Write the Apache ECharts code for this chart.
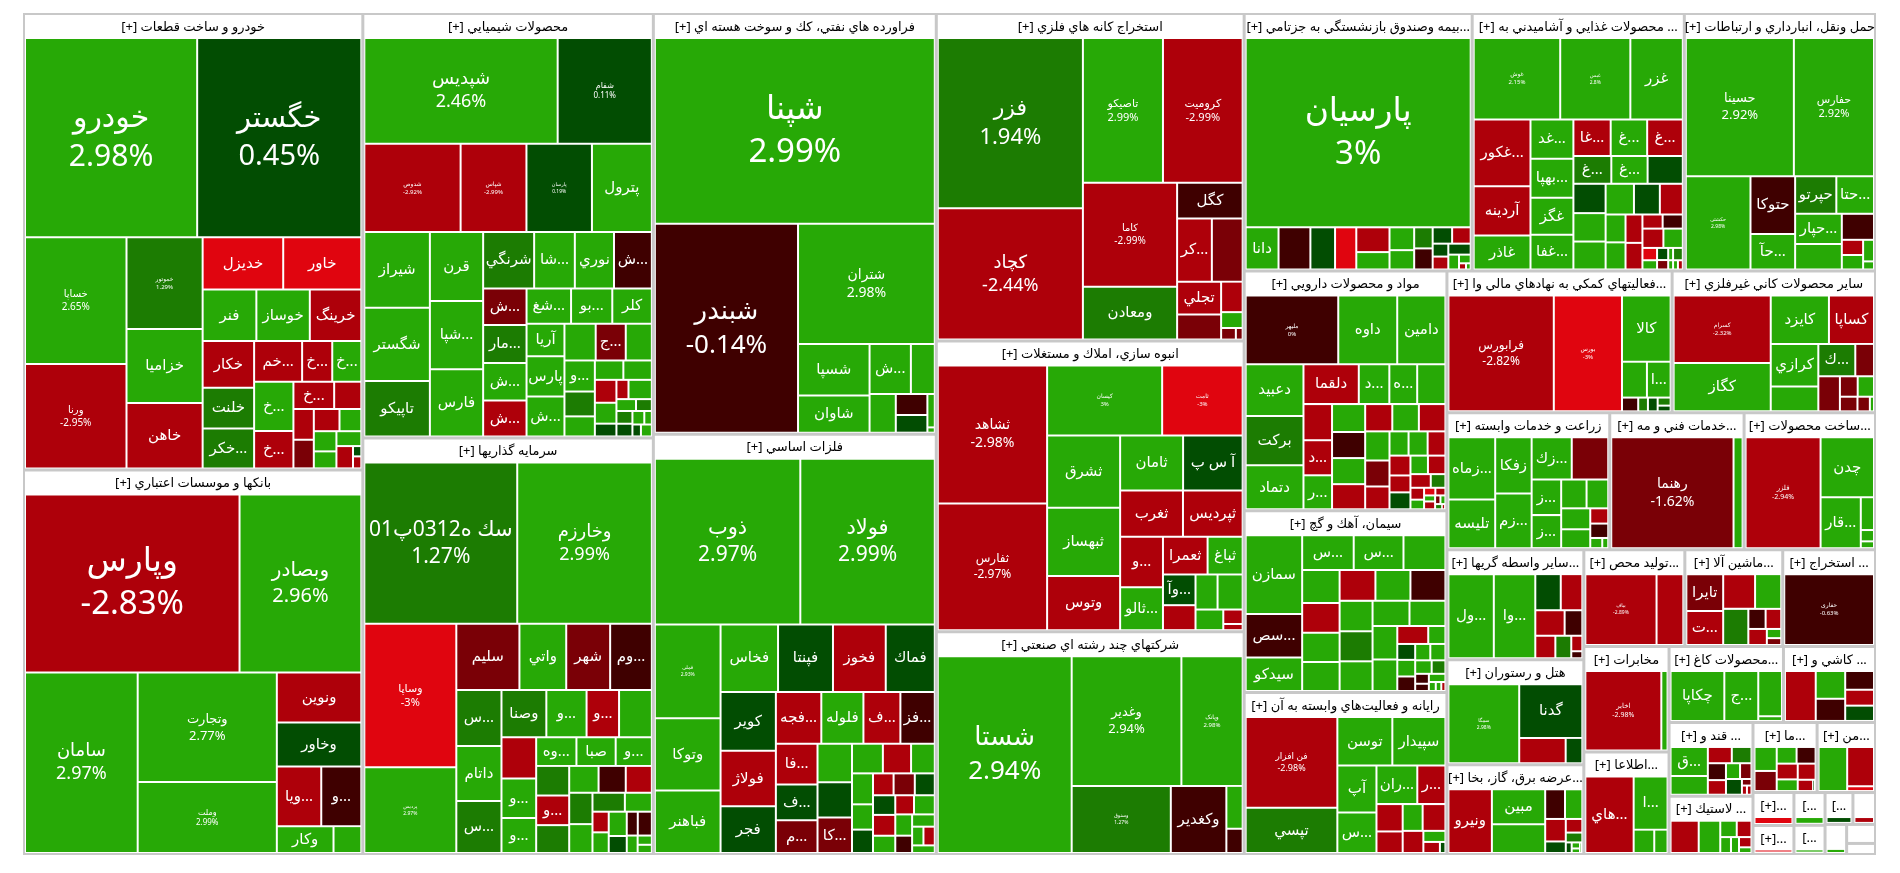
<!DOCTYPE html>
<html>
<head>
<meta charset="utf-8">
<title>treemap</title>
<script src="https://cdn.jsdelivr.net/npm/echarts@6/dist/echarts.min.js"></script>
<style>
html, body { margin: 0; background: #fff; }
#main { width: 1900px; height: 873px; }
</style>
</head>
<body>
<div id="main"></div>
<script>
// each row: symbol, percent change, market size
// a nested list keeps a strip of cells together
const khodro = [['خودرو',2.98,240.7],['خگستر',0.45,229.5],['خساپا',2.65,90.2],['ورنا',-2.95,74.3],['خموتور',1.29,49],['خزامیا',2.9,39.5],['خاهن',-2.9,34.9],['خدیزل',-3,29.5],['خاور',-3,28.6],['فنر',2.9,19.4],['خوساز',2.9,19.3],['خرینگ',-2.9,18.6],['خکار',-2.9,16.9],['خلنت',1.5,14.7],['خکر...',1.5,14.4],['خم...',-2.9,13.7],['خ...',-2.9,8.6],['خ...',2.9,8.3],['خ...',2.9,13.6],['خ...',-2.9,10.3],['خ...',-2.9,7.8],['',-2.9,5.2],['',-2.9,4.4],['',-1.5,4.1],['',-2.9,4],['',2.9,3.4],['',2.9,3.2],['',2.9,2.7],['',2.9,2.6],['',-2.9,2.6],['',0.5,0.6],['',-2.9,0.7]];
const banks = [['وپارس',-2.83,266],['وبصادر',2.96,151],['سامان',2.97,141.5],['وتجارت',2.77,106],['وملت',2.99,68.7],['ونوین',-2.9,29.4],['وخاور',0.5,25.9],['ویا...',-2.9,18.4],['و...',-0.5,16.6],['وکار',2.9,10.6],['',2.9,5.2]];
const chemical = [['شپدیس',2.46,140.6],['شفام',0.11,68.5],['شدوص',-2.92,58.5],['شپاس',-2.99,40],['پارسان',0.19,39.8],['پترول',2.9,36.4],['شیراز',2.9,34.2],['شگستر',2.9,33],['تاپیکو',1.5,25],['قرن',2.9,25.3],['شپا...',2.9,25],['فارس',2.9,24.6],['شرنگي',1.5,19.8],['شا...',2.9,15.8],['نوري',2.9,15.2],['ش...',-0.5,14.7],['ش...',-1.5,10.9],['مار...',1.5,11.4],['ش...',2.9,11.2],['ش...',-2.9,10.7],['شغ...',2.9,10.8],['بو...',2.9,10],['کلر',2.9,9.6],['آریا',2.9,8.5],['پارس',2.9,10.5],['ش...',2.9,10.4],['',2.9,7.9],['ج...',-1.5,7.6],['',2.9,6.6],['و...',2.9,6.5],['',1.5,5.2],['',2.9,4.2],['',2.9,3.8],['',2.9,3.8],['',-2.9,3.4],['',2.9,3.1],['',0.5,1.9],['',-2.9,1.6],['',2.9,3.1],['',2.9,1.6],['',1.5,1.3],['',1.5,1.4],['',0.5,1.4],['',2.9,1.1],['',2.9,0.7],['',0.5,0.7],['',2.9,0.9]];
const invest = [['سك ه0312پ01',1.27,169],['وخارزم',2.99,148.8],['وساپا',-3,90.3],['پردیس',2.97,54],[['سلیم',-1.5,28.6],['واتي',2.9,21.2],['شهر',-1.5,19.9],['وم...',-0.5,18.9]],[['س...',1.5,17.3],['داتام',2.9,17],['س...',1.5,16.1],[['وصنا',1.5,14.5],['و...',2.9,13],['و...',-2.9,10.5],['',2.9,10.6]],[['',-2.9,9.8],['و...',2.9,9.4],['و...',2.9,8.3],['وه...',2.9,7.9],['صبا',2.9,7.7],['و...',2.9,7.1],['',1.5,6.7],['و...',-2.9,6.7],['',1.5,6.3],['',2.9,5.4],['',-0.5,5],['',-2.9,4.8],['',1.5,5],['',2.9,4.6],['',1.5,4.2],['',2.9,3.5],['',-2.9,2.3],['',2.9,2.3],['',2.9,3],['',0.5,2.1],['',-0.5,1.8],['',-0.5,2.3],['',2.9,1.3],['',2.9,0.9],['',2.9,0.8]]]];
const refinery = [['شپنا',2.99,399.5],['شبندر',-0.14,230],['شتران',2.98,126.4],['شسپا',2.9,28.4],['شاوان',2.9,20.4],[['ش...',2.9,15.9],['',2.9,9.2]],[['',2.9,7.8],['',-0.5,5.1],['',0.5,4.3],['',2.9,1.9],['',2.9,0.3]]];
const metals = [['ذوب',2.97,181.7],['فولاد',2.99,168],['فملی',2.93,46.5],['وتوکا',2.9,35.8],['فباهنر',2.9,30.9],['فخاس',2.9,29.3],['فپنتا',0.5,28],['فخوز',-2.9,26.9],['فماك',0.5,25],['کویر',0.5,24.5],['فولاژ',-2.9,23.1],['فجر',0.5,19.5],[['فجه...',-2.9,17.7],['فلوله',2.9,16.4],['ف...',-2.9,14.4],['فز...',-0.5,13.4]],[['فا...',-2.9,12.8],['ف...',0.5,11.2],['م...',-1.5,10.3],['',2.9,10],['',0.5,9.2],['کا...',-1.5,9.2],['',2.9,6.9],['',-2.9,6.3],['',2.9,5.3],['',2.9,4.9],['',2.9,4],['',0.5,3.7],['',-2.9,3.4],['',-1.5,3.5],['',0.5,3.3],['',0.5,3.3],['',-2.9,3.5],['',2.9,2.9],['',-2.9,2.7],['',2.9,3],['',2.9,2.7],['',-0.5,2.2],['',2.9,2.1],['',2.9,1.6],['',-2.9,1.6],['',2.9,1.3]]];
const mining = [['فزر',1.94,188],['کچاد',-2.44,145],['تاصیکو',2.99,88.2],['کرومیت',-2.99,87.8],['کاما',-2.99,74.6],['ومعادن',1.5,37.8],['کگل',-0.5,17.8],[['کر...',-2.9,16.7],['',-1.5,14.8]],[['تجلي',-2.9,11],['',-1.5,8.4],['',-2.9,5],['',2.9,2.6],['',-1.5,1.3],['',-1.5,0.6]]];
const building = [['ثشاهد',-2.98,113],['ثفارس',-2.97,103.9],['کیسان',3,60.3],['ثامت',-3,42.2],['ثشرق',2.9,39.6],['ثبهساز',2.9,37.4],['وتوس',-2.9,29.6],['ثامان',2.9,26],['آ س پ',0.5,24.6],['ثغرب',-2.9,21.8],['ثپردیس',-2.9,20.7],['و...',-2.9,16.2],['ثالو...',2.9,13.8],['ثعمرا',-2.9,12.6],['ثباغ',2.9,9.9],['وآ...',0.5,7.5],['',-2.9,6.1],['',2.9,5.8],['',2.9,6.6],['',2.9,4.3],['',-2.9,2.1],['',-2.9,0.9]];
const multi = [['شستا',2.94,200],[['وغدیر',2.94,108],['وپانک',2.98,60.3]],[['وسنوق',1.27,50.5],['وکغدیر',-0.5,28.3],[['',2.9,5.3],['',-0.5,3]]]];
const insurance = [['پارسیان',3,295],['دانا',2.9,9.6],['',-0.5,9.3],['',0.5,7.2],['',-3,6.2],['',-2.9,5.7],['',2.9,4],['',2.9,3.9],['',2.9,3.3],['',1.5,2.7],['',-0.5,2.7],['',0.5,2.2],['',-2.9,2.1],['',0.5,1.4],['',-2.9,1.4],['',0.5,1.7],['',2.9,1.1],['',2.9,0.7],['',-2.9,0.3],['',2.9,0.2]];
const food = [['غوش',2.15,47],['غبس',2.8,38.1],['غزر',2.9,28.5],['غکور...',-2.9,25.3],['آردینه',-2.9,18.6],['غاذر',2.9,12.9],['غد...',2.9,11.2],['بهپا...',2.9,11.2],['غگز',2.9,10.6],['غفا...',2.9,9.9],['غا...',-2.9,9.1],['غ...',2.9,8.9],['غ...',-2.9,8.7],['غ...',1.5,7],['غ...',2.9,6.7],['',0.5,6.5],['',0.5,6.3],['',2.9,6.1],['',2.9,6],['',2.9,5.8],['',0.5,5.3],['',-2.9,4.7],['',2.9,3.7],['',2.9,3.6],['',-2.9,3.2],['',-2.9,3],['',-2.9,1.9],['',-0.5,1.9],['',-2.9,2.7],['',2.9,2.5],['',-3,1.2],['',2.9,0.9],['',0.5,0.9],['',-1.5,0.7],['',2.9,0.4],['',1.5,0.8],['',2.9,0.3],['',2.9,0.3],['',-2.9,0.3]];
const transport = [['حسینا',2.92,101.8],['حفارس',2.92,75.5],['حکشتی',2.98,41],['حتوکا',-0.5,17.5],['حآ...',2.9,10.8],['حپرتو',1.5,10.5],['حتا...',2.9,9.6],['حپار...',2.9,9.6],['',2.9,8.1],['',-0.5,5.7],['',-2.9,2.2],['',2.9,2.1],['',2.9,1.6],['',2.9,0.6]];
const pharma = [['ملیهر',0,41.3],['داوه',2.9,26.3],['دامین',2.9,21.5],['دعبید',2.9,19.4],['برکت',1.5,18.5],['دتماد',2.9,16.5],['دلقما',-2.9,14.3],['د...',2.9,7.9],['ه...',2.9,7.2],['',2.9,7.3],['',-2.9,6.7],['د...',-2.9,6.5],['ر...',2.9,6.3],['',2.9,6],['',-0.5,5.6],['',2.9,5.6],['',-2.9,5.4],['',-2.9,4.8],['',2.9,4.7],['',-2.9,4.7],['',2.9,4.6],['',-1.5,4.1],['',-2.9,3.6],['',2.9,3],['',2.9,3],['',-2.9,2.8],['',-2.9,2.7],['',-2.9,2.3],['',0.5,2.3],['',2.9,2.1],['',-2.9,2.1],['',-2.9,1.8],['',1.5,1.3],['',-2.9,1.05],['',2.9,0.85],['',-3,0.56],['',-2.9,0.5],['',2.9,0.43],['',-2.9,0.56],['',-1.5,0.3],['',2.9,0.28],['',1.5,0.24],['',-2.9,0.11]];
const cement = [['سمازن',2.9,35.9],['سص...',-0.5,19.9],['سیدکو',2.9,15.3],['س...',2.9,14.5],['س...',2.9,14],['',2.9,11.8],['',2.9,10],['',-2.9,9],['',2.9,8.8],['',2.9,8.8],['',-2.9,8.9],['',2.9,8.7],['',-0.5,8.7],['',2.9,8.1],['',1.5,8],['',2.9,7.9],['',2.9,7.5],['',2.9,7.3],['',2.9,6.7],['',2.9,6.3],['',-2.9,4.5],['',2.9,2.5],['',0.5,2.3],['',2.9,2.4],['',-0.5,2.1],['',2.9,2],['',2.9,2],['',2.9,1.8],['',1.5,1.5],['',-0.5,1.1],['',-0.5,0.8],['',2.9,1.1],['',2.9,0.5],['',2.9,0.4],['',-2.9,0.3]];
const software = [['فن افزار',-2.98,54.5],['تپسي',1.5,27.2],['توسن',2.9,17.5],['سپیدار',2.9,16.9],['آپ',2.9,12],['س...',2.9,10.4],['ران...',2.9,10.3],['ر...',-2.9,7.1],['',-2.9,4.7],['',-2.9,3.7],['',2.9,3.5],['',-2.9,4],['',-2.9,3],['',2.9,1.6],['',-2.9,1.2],['',0.5,0.4]];
const finance = [['فرابورس',-2.82,81.9],['بورس',-3,53],['کالا',2.9,21.6],['',2.9,6],['ا...',2.9,5.7],['',-0.5,1.5],['',1.5,0.9],['',0.5,0.9],['',1.5,0.7],['',0.5,0.5]];
const nonMetal = [['کسرام',-2.32,43.3],['کگاز',2.9,31],['کایزد',2.9,18.6],['کساپا',-2.9,14.4],['کرازي',2.9,13.4],['',2.9,7.8],['ك...',1.5,7.9],['',-1.5,4],['',-1.5,5],['',-1.5,2.4],['',2.9,2.2],['',-1.5,1.7],['',-1.5,1.2],['',2.9,0.4]];
const farming = [['زماه...',2.9,19.1],['تلیسه',2.9,14.9],['زفکا',2.9,13.4],['زم...',2.9,13.1],['زك...',2.9,11.1],['',-1.5,10.1],['ز...',2.9,6.9],['ز...',2.9,6.4],['',2.9,4.8],['',2.9,4.1],['',2.9,4],['',2.9,3.6],['',-2.9,1.8],['',-0.5,1.7],['',2.9,0.8],['',2.9,0.4]];
const technical = [['رهنما',-1.62,92],['',2.9,6.8]];
const products = [['فلزر',-2.94,55.6],['چدن',2.9,21.4],['قار...',2.9,13.7],['',2.9,2.9],['',2.9,1],['',2.9,0.6]];
const brokers = [['ول...',2.9,24.5],['وا...',2.9,22.4],['',0.5,5.9],['',-2.9,5],['',-2.9,4.8],['',-0.5,2.9],['',-2.9,2.9],['',1.5,2.3],['',-2.9,1.1],['',-0.5,0.5]];
const hotels = [['سمگا',2.98,37],['گدنا',0.5,22.4],['',-2.9,7.8],['',0.5,2.8]];
const power = [['ونیرو',-2.9,22.1],['مبین',2.9,14.9],['',2.9,12.2],['',-0.5,4.7],['',2.9,4.1],['',-2.9,3.7],['',0.5,1.9],['',-2.9,1.8],['',1.5,1.3],['',0.5,0.5],['',2.9,0.4],['',2.9,0.3],['',2.9,0.2]];
const textile = [['بیاف',-2.89,33.5],['',-2.9,12.6]];
const machinery = [['تایرا',-1.5,8.2],['ت...',-2.9,7.6],['',-2.9,6.7],['',2.9,5.5],['',1.5,5.5],['',-0.5,2.1],['',-2.9,1.9],['',-2.9,1.8],['',2.9,0.8],['',-1.5,0.6]];
const extraction = [['حفاری',-0.63,42]];
const telecom = [['اخابر',-2.98,39],['',2.9,3.2]];
const infoTech = [['هاي...',-2.9,23.8],['ا...',2.9,11.6],['',2.9,3.1],['',2.9,2]];
const paper = [['چکاپا',2.9,16.8],['ج...',2.9,10.6],['',2.9,6.7],['',2.9,0.7]];
const tiles = [['',-2.9,9.4],['',2.9,5],['',-0.5,4],['',-0.5,3.3],['',-2.9,2.8],['',0.5,2.7]];
const sugar = [['ق...',2.9,7.8],['',2.9,5],['',-2.9,2.8],['',1.5,2.3],['',-0.5,2.2],['',-2.9,1.9],['',2.9,1.6],['',-1.5,1.3],['',0.5,1.8],['',-1.5,0.45],['',-2.9,0.33],['',-2.9,0.3]];
const rubber = [['',-2.9,6.4],['',2.9,4.9],['',2.9,1.9],['',-2.9,1.7],['',2.9,1.2],['',2.9,0.9],['',-2.9,0.9],['',2.9,0.5]];
const smallA = [['',2.9,3.7],['',-1.5,3.1],['',2.9,2.3],['',-0.5,2.2],['',-2.9,2.3],['',2.9,1.7],['',-2.9,2],['',-2.9,1.2],['',0.5,0.2]];
const smallB = [['',2.9,9.8],['',-2.9,8.2],['',-3,1]];
const sliver1 = [['',-3,1]];
const sliver2 = [['',2.9,1]];
const sliver3 = [['',0.5,1]];
const sliver4 = [['',-2.9,1]];
const sliver5 = [['',-3,1]];
const sliver6 = [['',2.9,1]];
const sliver7 = [['',2.9,1]];

const sectorNames = ['[+] خودرو و ساخت قطعات','[+] بانكها و موسسات اعتباري','[+] محصولات شيميايي','[+] سرمايه گذاريها','[+] فراورده هاي نفتي، كك و سوخت هسته اي','[+] فلزات اساسي','[+] استخراج كانه هاي فلزي','[+] انبوه سازي، املاك و مستغلات','[+] شركتهاي چند رشته اي صنعتي','[+] بيمه وصندوق بازنشستگي به جزتامي...','[+] محصولات غذايي و آشاميدني به ...','[+] حمل ونقل، انبارداري و ارتباطات','[+] مواد و محصولات دارويي','[+] سيمان، آهك و گچ','[+] رايانه و فعاليت‌هاي وابسته به آن','[+] فعاليتهاي كمكي به نهادهاي مالي وا...','[+] ساير محصولات كاني غيرفلزي','[+] زراعت و خدمات وابسته','[+] خدمات فني و مه...','[+] ساخت محصولات...','[+] ساير واسطه گريها...','[+] هتل و رستوران','[+] عرضه برق، گاز، بخا...','[+] توليد محص...','[+] ماشين آلا...','[+] استخراج ...','[+] مخابرات','[+] اطلاعا...','[+] محصولات كاغ...','[+] كاشي و ...','[+] قند و ...','[+] لاستيك ...','[+] ما...','[+] من...','[+]...','[+]...','[...','[...','[...','','','',''];
const sectorValues = [1551,1307,1235,1212,1192,1191,1010,896,687,588,547,493,487,369,329,320,289,223,184,180,151,144,123,98,95,90,90,87.5,87,70,62,49,45,41,13.5,11.9,10.2,9.1,8.9,7.2,6.5,5.5,3.2];
const sectorStocks = [khodro,banks,chemical,invest,refinery,metals,mining,building,multi,insurance,food,transport,pharma,cement,software,finance,nonMetal,farming,technical,products,brokers,hotels,power,textile,machinery,extraction,telecom,infoTech,paper,tiles,sugar,rubber,smallA,smallB,sliver1,sliver5,sliver2,sliver6,sliver3,sliver4,sliver7,[],[]];

// font px of the cells that also print their percent
const pctFont = {'خودرو':30,'خگستر':29,'خساپا':10,'ورنا':10,'خموتور':6,'وپارس':33,'وبصادر':20,'سامان':18,'وتجارت':13,'وملت':8,'شپدیس':18,'شفام':8,'شدوص':6,'شپاس':6,'پارسان':5,'سك ه0312پ01':21,'وخارزم':18,'وساپا':11,'پردیس':5,'شپنا':33,'شبندر':26,'شتران':14,'ذوب':21,'فولاد':21,'فملی':5,'فزر':22,'کچاد':18,'تاصیکو':11,'کرومیت':11,'کاما':10,'ثشاهد':14,'ثفارس':12,'کیسان':6,'ثامت':6,'شستا':26,'وغدیر':13,'وپانک':6,'وسنوق':5,'پارسیان':33,'غوش':6,'غبس':5,'حسینا':13,'حفارس':11,'حکشتی':5,'ملیهر':6,'فن افزار':9,'فرابورس':12,'بورس':6,'کسرام':6,'رهنما':14,'فلزر':7,'بیاف':5,'حفاری':6,'اخابر':7,'سمگا':5};
const pctText = {'ملیهر':'0%','پارسیان':'3%','کیسان':'3%','ثامت':'-3%','بورس':'-3%','وساپا':'-3%'};

const fontFamily = '"Noto Sans","DejaVu Sans",sans-serif';

function bucketColor(p) {
  if (p >= 2) return '#27a906';
  if (p >= 1) return '#1c7c02';
  if (p > 0) return '#024d02';
  if (p > -1) return '#3f0000';
  if (p > -2) return '#7a0006';
  if (p > -3) return '#ae000a';
  return '#e0050f';
}

function stockNode(row) {
  if (Array.isArray(row[0])) {
    return { name: '', children: row.map(stockNode), itemStyle: { borderWidth: 0, gapWidth: 2, borderColor: '#fff' } };
  }
  const [name, pct, value] = row;
  const size = pctFont[name];
  const label = { show: name !== '', fontSize: size || 15, lineHeight: 14, formatter: name };
  if (size) {
    label.formatter = name + '\n' + (pctText[name] || pct + '%');
    label.lineHeight = Math.round(size * 1.3);
  }
  return { name: name, value: value, itemStyle: { color: bucketColor(pct) }, label: label };
}

const treeData = sectorNames.map((name, i) => {
  const node = { name: name, value: sectorValues[i], itemStyle: {} };
  if (sectorStocks[i].length) node.children = sectorStocks[i].map(stockNode);
  else { node.itemStyle.color = '#fff'; node.label = { show: false }; }
  return node;
});

const myChart = echarts.init(document.getElementById('main'));
myChart.setOption({
  animation: false,
  tooltip: { show: false },
  series: [{
    type: 'treemap',
    left: 23, top: 13, width: 1853, height: 842,
    roam: false,
    nodeClick: false,
    silent: true,
    sort: false,
    squareRatio: 1,
    visibleMin: 0,
    childrenVisibleMin: 0,
    breadcrumb: { show: false },
    label: { show: true, position: 'inside', color: '#fff', fontFamily: fontFamily, overflow: 'none', align: 'center', verticalAlign: 'middle' },
    levels: [
      { itemStyle: { borderColor: '#c8c8c8', borderWidth: 2, gapWidth: 3 }, upperLabel: { show: false } },
      {
        itemStyle: { borderColor: '#fff', borderWidth: 1, gapWidth: 2 },
        upperLabel: { show: true, height: 24, color: '#000', fontSize: 13, fontFamily: fontFamily, position: 'inside', align: 'center', verticalAlign: 'middle', overflow: 'none' }
      },
      { upperLabel: { show: false } },
      { upperLabel: { show: false } },
      { upperLabel: { show: false } },
      { upperLabel: { show: false } }
    ],
    data: treeData
  }]
});
</script>
</body>
</html>
